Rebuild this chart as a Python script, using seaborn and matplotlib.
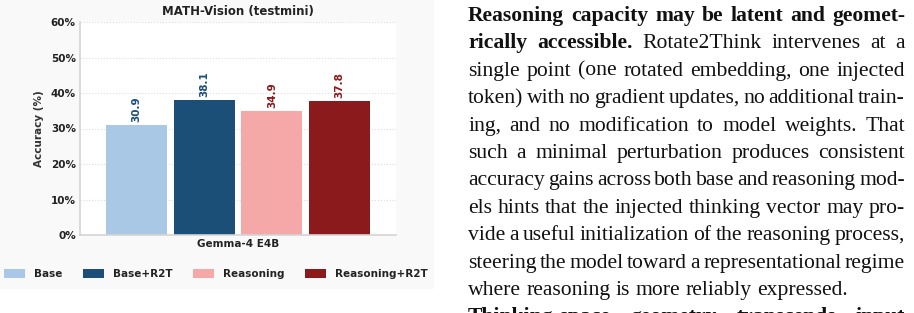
import matplotlib
matplotlib.use("Agg")
import matplotlib.pyplot as plt
import seaborn as sns
import pandas as pd
from matplotlib.patches import Rectangle
from matplotlib.ticker import FuncFormatter

# ---- data ----
models = ["Gemma-4 E4B"]
variants = ["Base", "Base+R2T", "Reasoning", "Reasoning+R2T"]
accuracy = [30.9, 38.1, 34.9, 37.8]
yticks = [0, 10, 20, 30, 40, 50, 60]
title = "MATH-Vision (testmini)"
ylabel = "Accuracy (%)"

colors = ["#a8c8e6", "#1b4f78", "#f4a8a8", "#8b1a1c"]
label_colors = ["#1b4f78", "#1b4f78", "#8b1a1c", "#8b1a1c"]

df = pd.DataFrame({"model": models * len(variants), "variant": variants, "acc": accuracy})

W, H = 914, 313
fig = plt.figure(figsize=(W / 100, H / 100), dpi=100)
fig.patch.set_facecolor("white")
fig.patches.append(Rectangle((0, 24 / H), 434 / W, 1 - 24 / H, transform=fig.transFigure,
                             facecolor="#f9f9f9", edgecolor="none", zorder=-10))

ax = fig.add_axes([80 / W, (H - 235) / H, (396 - 80) / W, (235 - 22) / H])
ax.set_facecolor("white")
sns.barplot(data=df, x="model", y="acc", hue="variant", hue_order=variants,
            palette=dict(zip(variants, colors)), width=0.857, gap=0.1,
            saturation=1, ax=ax, legend=False, errorbar=None)
ax.set_xlim(-0.5, 0.5)
ax.set_ylim(0, 60)
ax.set_yticks(yticks)
ax.yaxis.set_major_formatter(FuncFormatter(lambda v, p: f"{int(v)}%"))
ax.grid(axis="y", linestyle=":", color="#dddddd", linewidth=0.8)
ax.set_axisbelow(True)
for s in ["top", "right"]:
    ax.spines[s].set_visible(False)
for s in ["left", "bottom"]:
    ax.spines[s].set_color("#d4d4d4")
    ax.spines[s].set_linewidth(1.2)
ax.tick_params(length=0, pad=3, labelsize=7.5, labelcolor="#222222")
for t in ax.get_xticklabels() + ax.get_yticklabels():
    t.set_fontweight("bold")
ax.set_xlabel("")
ax.set_ylabel(ylabel, fontsize=7.5, fontweight="bold", color="#333333", labelpad=5)
ax.set_title(title, fontsize=8.5, fontweight="bold", color="#222222", pad=5)

for cont, lc in zip(ax.containers, label_colors):
    for bar in cont:
        h = bar.get_height()
        ax.text(bar.get_x() + bar.get_width() / 2, h + 0.9, f"{h:.1f}", rotation=90,
                ha="center", va="bottom", fontsize=7.5, fontweight="bold", color=lc)

handles = [Rectangle((0, 0), 1, 1, facecolor=c, edgecolor="none") for c in colors]
leg = fig.legend(handles, variants, loc="center", bbox_to_anchor=(216 / W, (H - 274) / H),
                 ncol=4, frameon=False, handlelength=2.0, handleheight=0.9,
                 handletextpad=0.85, columnspacing=2.0,
                 prop={"size": 7.5, "weight": "bold"})
for t in leg.get_texts():
    t.set_color("#222222")

# ---- paragraph text (justified) ----
lines = [
    ([("Reasoning capacity may be latent and geomet-", "bold")], True),
    ([("rically accessible.", "bold"), ("Rotate2Think intervenes at a", "normal")], True),
    ([("single point (one rotated embedding, one injected", "normal")], True),
    ([("token) with no gradient updates, no additional train-", "normal")], True),
    ([("ing, and no modification to model weights. That", "normal")], True),
    ([("such a minimal perturbation produces consistent", "normal")], True),
    ([("accuracy gains across both base and reasoning mod-", "normal")], True),
    ([("els hints that the injected thinking vector may pro-", "normal")], True),
    ([("vide a useful initialization of the reasoning process,", "normal")], True),
    ([("steering the model toward a representational regime", "normal")], True),
    ([("where reasoning is more reliably expressed.", "normal")], False),
    ([("Thinking-space geometry transcends input", "bold")], True),
]
x0, x1 = 468, 905
base0, lead = 21, 27.4
fs = 15.6
renderer = fig.canvas.get_renderer()
for i, (segs, justify) in enumerate(lines):
    words = []
    for txt, wt in segs:
        for w in txt.split(" "):
            words.append((w, wt))
    y = (H - (base0 + lead * i)) / H
    objs = []
    for w, wt in words:
        t = fig.text(0, y, w, fontsize=fs, fontweight=wt, family="Liberation Serif",
                     color="#111111", va="baseline", ha="left")
        objs.append(t)
    widths = [t.get_window_extent(renderer).width for t in objs]
    space_nat = fs * 0.25 * 100 / 72
    if justify and len(objs) > 1:
        sp = (x1 - x0 - sum(widths)) / (len(objs) - 1)
    else:
        sp = space_nat
    x = x0
    for t, wd in zip(objs, widths):
        t.set_x(x / W)
        x += wd + sp

fig.savefig("out.png", dpi=100)
